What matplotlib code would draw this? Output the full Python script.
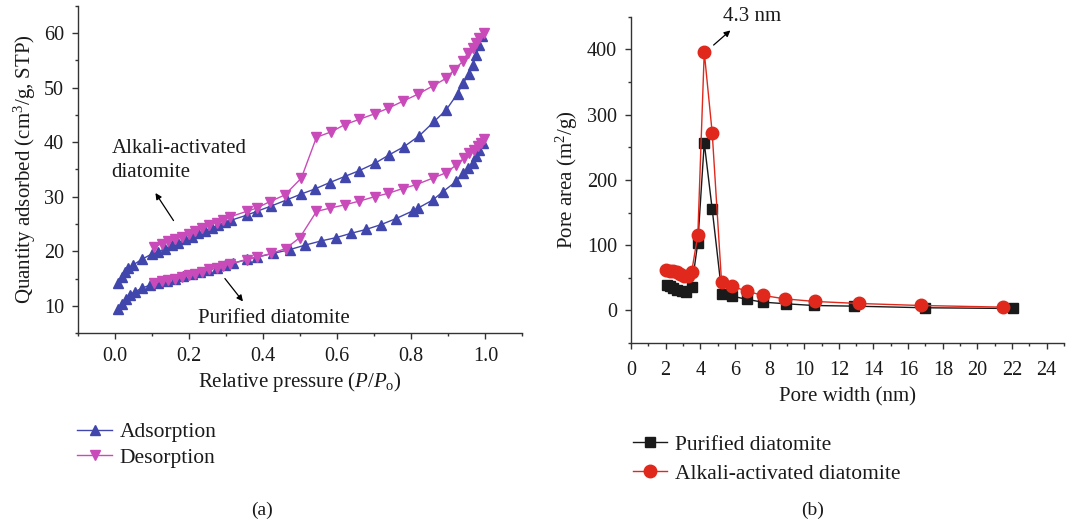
import numpy as np
import matplotlib
matplotlib.use('Agg')
import matplotlib.pyplot as plt
from matplotlib.ticker import MultipleLocator
from matplotlib.lines import Line2D

plt.rcParams['font.family'] = ['Liberation Serif', 'DejaVu Serif']
plt.rcParams['mathtext.fontset'] = 'custom'
plt.rcParams['mathtext.rm'] = 'Liberation Serif'
plt.rcParams['mathtext.it'] = 'Liberation Serif:italic'
plt.rcParams['font.size'] = 15

# (a) N2 isotherms, relative pressure vs quantity adsorbed
alk_ads_p = [0.009, 0.018, 0.027, 0.036, 0.049, 0.072, 0.099, 0.117, 0.135, 0.153, 0.171,
             0.189, 0.207, 0.225, 0.243, 0.261, 0.279, 0.297, 0.314, 0.355, 0.382, 0.422,
             0.463, 0.503, 0.539, 0.580, 0.620, 0.660, 0.701, 0.741, 0.781, 0.822, 0.862,
             0.894, 0.925, 0.939, 0.957, 0.966, 0.975, 0.984, 0.991]
alk_ads_q = [14.2, 15.3, 16.2, 16.9, 17.5, 18.5, 19.5, 19.9, 20.5, 21.1, 21.6,
             22.2, 22.7, 23.3, 23.8, 24.3, 24.8, 25.3, 25.7, 26.6, 27.3, 28.3,
             29.4, 30.5, 31.4, 32.6, 33.7, 34.8, 36.1, 37.7, 39.2, 41.2, 43.8,
             45.9, 48.9, 50.8, 52.5, 54.2, 56.0, 57.8, 59.5]

alk_des_p = [0.997, 0.984, 0.975, 0.966, 0.952, 0.939, 0.916, 0.894, 0.858, 0.818, 0.777,
             0.737, 0.701, 0.660, 0.620, 0.584, 0.544, 0.503, 0.458, 0.418, 0.382, 0.355,
             0.310, 0.292, 0.274, 0.254, 0.234, 0.216, 0.200, 0.180, 0.162, 0.144, 0.126,
             0.106]
alk_des_q = [60.0, 59.1, 58.2, 57.2, 56.3, 54.8, 53.3, 51.7, 50.3, 48.8, 47.5,
             46.2, 45.2, 44.2, 43.2, 41.9, 40.9, 33.4, 30.3, 29.1, 27.9, 27.3,
             26.3, 25.7, 25.2, 24.8, 24.2, 23.7, 23.1, 22.7, 22.2, 21.8, 21.4,
             20.8]

pur_ads_p = [0.009, 0.018, 0.030, 0.040, 0.054, 0.072, 0.094, 0.117, 0.139, 0.162, 0.184,
             0.207, 0.229, 0.252, 0.274, 0.297, 0.319, 0.355, 0.382, 0.427, 0.472, 0.512,
             0.557, 0.597, 0.638, 0.678, 0.719, 0.759, 0.804, 0.818, 0.858, 0.885, 0.921,
             0.939, 0.952, 0.966, 0.975, 0.984, 0.993]
pur_ads_q = [9.5, 10.4, 11.3, 12.0, 12.6, 13.2, 13.8, 14.2, 14.6, 15.0, 15.4,
             15.8, 16.2, 16.5, 17.0, 17.4, 17.8, 18.5, 18.9, 19.6, 20.3, 21.1,
             21.9, 22.5, 23.3, 24.0, 24.9, 26.0, 27.4, 27.9, 29.4, 30.9, 32.8,
             34.3, 35.2, 36.1, 37.4, 38.6, 39.8]

pur_des_p = [0.997, 0.988, 0.979, 0.970, 0.957, 0.943, 0.921, 0.894, 0.858, 0.813, 0.777,
             0.737, 0.701, 0.660, 0.620, 0.580, 0.544, 0.499, 0.461, 0.422, 0.382, 0.355,
             0.310, 0.292, 0.274, 0.254, 0.234, 0.216, 0.200, 0.180, 0.162, 0.144, 0.126,
             0.106]
pur_des_q = [40.5, 39.9, 39.3, 38.6, 38.0, 37.1, 35.8, 34.4, 33.4, 32.2, 31.5,
             30.6, 30.0, 29.2, 28.5, 27.9, 27.3, 22.5, 20.5, 19.6, 18.9, 18.4,
             17.7, 17.3, 17.0, 16.7, 16.2, 15.9, 15.6, 15.3, 15.0, 14.8, 14.5,
             14.2]

# (b) pore size distribution
pur_width = [2.06, 2.25, 2.44, 2.67, 2.92, 3.17, 3.50, 3.86, 4.23, 4.69, 5.25,
             5.86, 6.67, 7.63, 8.97, 10.55, 12.90, 17.00, 22.04]
pur_area = [39.7, 37.0, 34.6, 32.0, 29.6, 28.0, 35.7, 104, 257, 155, 24.5,
            22.0, 17.0, 12.7, 10.2, 7.6, 6.6, 4.1, 3.0]

alk_width = [2.02, 2.25, 2.44, 2.63, 2.82, 3.06, 3.30, 3.50, 3.86, 4.23, 4.69,
             5.23, 5.86, 6.67, 7.63, 8.88, 10.60, 13.14, 16.72, 21.46]
alk_area = [61.7, 61.0, 60.0, 58.6, 56.6, 53.5, 52.5, 58.6, 116, 396, 272,
            43.0, 37.0, 29.6, 23.0, 17.8, 13.8, 10.7, 7.6, 5.1]

blue = '#4146ad'
magenta = '#c94bb9'
red = '#e0281c'
black = '#1a1a1a'
spine_col = '#333333'
txt_col = '#1a1a1a'

fig = plt.figure(figsize=(10.76, 5.27), dpi=100)
ax1 = fig.add_axes([0.0725, 0.368, 0.413, 0.621])
ax2 = fig.add_axes([0.5864, 0.349, 0.4025, 0.619])


def style_axes(ax):
    for s in ['top', 'right']:
        ax.spines[s].set_visible(False)
    for s in ['left', 'bottom']:
        ax.spines[s].set_color(spine_col)
        ax.spines[s].set_linewidth(1.0)
    ax.tick_params(which='major', direction='out', length=4, width=1.0,
                   color=spine_col, labelsize=14.5, pad=6, labelcolor=txt_col)
    ax.tick_params(which='minor', direction='out', length=2, width=1.0,
                   color=spine_col)


# isotherms
ms = 7
ax1.plot(alk_ads_p, alk_ads_q, color=blue, lw=1, marker='^', ms=ms)
ax1.plot(alk_des_p, alk_des_q, color=magenta, lw=1, marker='v', ms=ms)
ax1.plot(pur_ads_p, pur_ads_q, color=blue, lw=1, marker='^', ms=ms)
ax1.plot(pur_des_p, pur_des_q, color=magenta, lw=1, marker='v', ms=ms)

ax1.set_xlim(-0.1, 1.1)
ax1.set_ylim(5, 65)
ax1.xaxis.set_minor_locator(MultipleLocator(0.1))
ax1.yaxis.set_minor_locator(MultipleLocator(5))
ax1.set_xticks([0, 0.2, 0.4, 0.6, 0.8, 1.0])
ax1.set_xticklabels(['0.0', '0.2', '0.4', '0.6', '0.8', '1.0'])
ax1.set_yticks([10, 20, 30, 40, 50, 60])
style_axes(ax1)
ax1.set_xlabel(r'Relative pressure ($\mathit{P}/\mathit{P}_{\mathrm{o}}$)', fontsize=15,
               labelpad=3, color=txt_col)
ax1.set_ylabel(r'Quantity adsorbed (cm$^{3}$/g, STP)', fontsize=15, labelpad=4,
               color=txt_col)

ax1.text(-0.009, 40.6, 'Alkali-activated\ndiatomite', fontsize=15, ha='left', va='top',
         linespacing=1.35, color=txt_col)
ax1.annotate('', xy=(0.105, 31.1), xytext=(0.162, 25.2),
             arrowprops=dict(arrowstyle='-|>', color='black', lw=0.9, mutation_scale=9))
ax1.text(0.43, 7.6, 'Purified diatomite', fontsize=15, ha='center', va='center',
         color=txt_col)
ax1.annotate('', xy=(0.350, 10.4), xytext=(0.292, 15.4),
             arrowprops=dict(arrowstyle='-|>', color='black', lw=0.9, mutation_scale=9))

# pore size distribution
ax2.plot(pur_width, pur_area, color=black, lw=1, marker='s', ms=7.5)
ax2.plot(alk_width, alk_area, color=red, lw=1, marker='o', ms=9)
ax2.set_xlim(0, 25)
ax2.set_ylim(-50, 450)
ax2.set_xticks(np.arange(0, 25, 2))
ax2.xaxis.set_minor_locator(MultipleLocator(1))
ax2.set_yticks([0, 100, 200, 300, 400])
ax2.yaxis.set_minor_locator(MultipleLocator(50))
style_axes(ax2)
ax2.tick_params(axis='x', which='major', pad=9)
ax2.set_xlabel('Pore width (nm)', fontsize=15, labelpad=5, color=txt_col)
ax2.set_ylabel(r'Pore area (m$^{2}$/g)', fontsize=15, labelpad=5, color=txt_col)

ax2.annotate('', xy=(5.86, 432), xytext=(4.65, 404),
             arrowprops=dict(arrowstyle='-|>', color='black', lw=0.9, mutation_scale=9),
             annotation_clip=False)
ax2.text(5.32, 451, '4.3 nm', fontsize=15, ha='left', va='center', clip_on=False,
         color=txt_col)

# legends below each panel
h_ads = Line2D([], [], color=blue, lw=1, marker='^', ms=ms)
h_des = Line2D([], [], color=magenta, lw=1, marker='v', ms=ms)
fig.legend([h_ads, h_des], ['Adsorption', 'Desorption'], loc='upper left',
           bbox_to_anchor=(0.072, 0.199), frameon=False, fontsize=15.5,
           handlelength=1.6, handletextpad=0.35, labelspacing=0.25, borderpad=0,
           borderaxespad=0, labelcolor=txt_col)

h_pur = Line2D([], [], color=black, lw=1, marker='s', ms=7.5)
h_alk = Line2D([], [], color=red, lw=1, marker='o', ms=9)
fig.legend([h_pur, h_alk], ['Purified diatomite', 'Alkali-activated diatomite'],
           loc='upper left', bbox_to_anchor=(0.588, 0.175), frameon=False,
           fontsize=15.5, handlelength=1.6, handletextpad=0.35, labelspacing=0.4,
           borderpad=0, borderaxespad=0, labelcolor=txt_col)

fig.text(262 / 1076, 1 - 510 / 527, '(a)', fontsize=14, ha='center', va='center',
         color=txt_col)
fig.text(813 / 1076, 1 - 510 / 527, '(b)', fontsize=14, ha='center', va='center',
         color=txt_col)

fig.savefig('out.png', dpi=100)
